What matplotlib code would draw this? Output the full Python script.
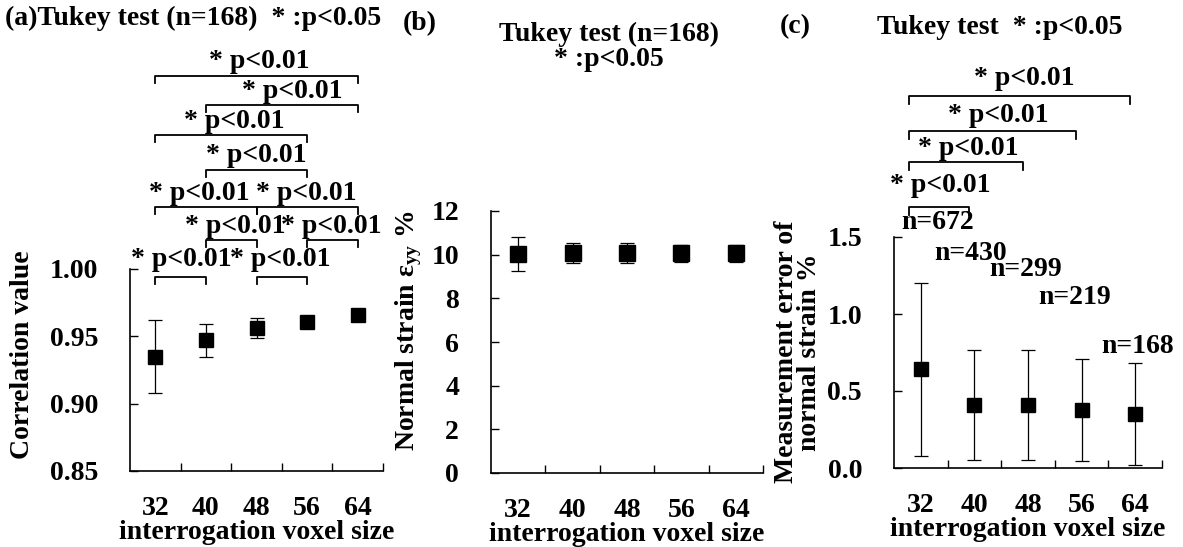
import matplotlib
matplotlib.use('Agg')
import matplotlib.pyplot as plt
import matplotlib.transforms as mtransforms

# voxel sizes (categories)
sizes = ['32', '40', '48', '56', '64']

# (a) correlation value, mean and SD
corr_mean = [0.935, 0.947, 0.956, 0.961, 0.966]
corr_sd = [0.027, 0.012, 0.0075, 0.003, 0.002]

# (b) normal strain eyy %, mean and SD
strain_mean = [10.04, 10.06, 10.06, 10.06, 10.06]
strain_sd = [0.78, 0.46, 0.46, 0.38, 0.38]

# (c) measurement error of normal strain %, mean and SD, sample count
err_mean = [0.64, 0.41, 0.41, 0.375, 0.352]
err_sd = [0.56, 0.355, 0.355, 0.33, 0.332]
err_n = [672, 430, 299, 219, 168]

# Tukey comparisons (index pairs)
corr_pairs = [(0, 1), (2, 3), (1, 2), (3, 4), (0, 2), (2, 4), (1, 3), (0, 3), (1, 4), (0, 4)]
err_pairs = [(0, 1), (0, 2), (0, 3), (0, 4)]

plt.rcParams['font.family'] = ['Liberation Serif', 'DejaVu Serif']
plt.rcParams['font.weight'] = 'bold'
plt.rcParams['axes.labelweight'] = 'bold'
plt.rcParams['font.size'] = 20
plt.rcParams['mathtext.fontset'] = 'custom'
plt.rcParams['mathtext.rm'] = 'Liberation Serif:bold'
plt.rcParams['mathtext.it'] = 'Liberation Serif:bold'
plt.rcParams['mathtext.bf'] = 'Liberation Serif:bold'

W, H = 1183, 547
fig = plt.figure(figsize=(W / 100, H / 100), dpi=100)

def add_axes(left, top, right, bottom):
    # pixel box -> figure fraction
    return fig.add_axes([left / W, 1 - bottom / H, (right - left) / W, (bottom - top) / H])

axa = add_axes(130, 269, 383, 471)
axb = add_axes(491, 211, 763, 473)
axc = add_axes(894, 237, 1162, 468)

xpos = [i + 0.5 for i in range(len(sizes))]

def style(ax):
    for s in ['top', 'right']:
        ax.spines[s].set_visible(False)
    for s in ['left', 'bottom']:
        ax.spines[s].set_linewidth(1.2)
    ax.set_xlim(0, len(sizes))
    ax.set_xticks(xpos)
    ax.set_xticklabels(sizes)
    ax.set_xticks(range(1, len(sizes) + 1), minor=True)
    ax.tick_params(axis='x', which='major', length=0, pad=18)
    ax.tick_params(axis='x', which='minor', direction='in', length=6, width=1)
    ax.tick_params(axis='y', direction='in', length=6, width=1, pad=23)
    ax.set_xlabel('interrogation voxel size', labelpad=-1)

def bracket(ax, x0, x1, y, leg, xt, yt, label='* p<0.01'):
    trans = mtransforms.blended_transform_factory(ax.transData, ax.transAxes)
    ax.plot([x0, x0, x1, x1], [y - leg, y, y, y - leg], color='k', lw=1.3,
            transform=trans, clip_on=False)
    ax.text(xt, yt, label, transform=trans, ha='center', va='baseline')

ekw = dict(fmt='s', color='k', ms=10, elinewidth=0.9, capsize=5, capthick=0.9)

# (a)
axa.errorbar(xpos, corr_mean, yerr=corr_sd, **ekw)
style(axa)
axa.set_ylim(0.85, 1.00)
axa.set_yticks([0.85, 0.90, 0.95, 1.00])
axa.set_yticklabels(['0.85', '0.90', '0.95', '1.00'])
line_y = [0.960, 0.960, 1.144, 1.144, 1.307, 1.307, 1.490, 1.663, 1.812, 1.955]
text_y = [1.015, 1.015, 1.178, 1.178, 1.342, 1.342, 1.530, 1.698, 1.847, 1.995]
text_x = [1.01, 2.96, 2.08, 3.97, 1.36, 3.48, 2.49, 2.06, 3.20, 2.55]
for (i, j), ly, tx, ty in zip(corr_pairs, line_y, text_x, text_y):
    bracket(axa, xpos[i], xpos[j], ly, 0.035, tx, ty)

# (b)
axb.errorbar(xpos, strain_mean, yerr=strain_sd, **dict(ekw, ms=11))
style(axb)
axb.set_ylim(0, 12)
axb.set_yticks(range(0, 13, 2))

# (c)
axc.errorbar(xpos, err_mean, yerr=err_sd, **ekw)
style(axc)
axc.set_ylim(0, 1.5)
axc.set_yticks([0, 0.5, 1.0, 1.5])
axc.set_yticklabels(['0.0', '0.5', '1.0', '1.5'])
line_y = [1.130, 1.325, 1.459, 1.610]
text_y = [1.195, 1.355, 1.498, 1.658]
text_x = [0.86, 1.38, 1.94, 2.43]
for (i, j), ly, tx, ty in zip(err_pairs, line_y, text_x, text_y):
    bracket(axc, xpos[i] - 0.22, xpos[j] - 0.1, ly, 0.035, tx, ty)
n_x = [0.82, 1.42, 2.46, 3.37, 4.54]
n_y = [1.597, 1.396, 1.286, 1.110, 0.786]
for n, x, y in zip(err_n, n_x, n_y):
    axc.text(x, y, 'n=%d' % n, ha='center', va='center', clip_on=False)

# titles and labels
fig.text(5 / W, 1 - 18 / H, '(a)Tukey test (n=168)  * :p<0.05', ha='left', va='center')
fig.text(403 / W, 1 - 24 / H, '(b)', ha='left', va='center')
fig.text(609 / W, 1 - 47 / H, 'Tukey test (n=168)\n* :p<0.05', ha='center', va='center',
         linespacing=1.0)
fig.text(780 / W, 1 - 27 / H, '(c)', ha='left', va='center')
fig.text(877 / W, 1 - 28 / H, 'Tukey test  * :p<0.05', ha='left', va='center')

fig.text(23 / W, 1 - 355 / H, 'Correlation value', rotation=90, ha='center', va='center')
fig.text(409 / W, 1 - 331 / H, r'Normal strain ε$_{yy}$ %', rotation=90, ha='center', va='center')
fig.text(798 / W, 1 - 352 / H, 'Measurement error of\nnormal strain %', rotation=90,
         ha='center', va='center', linespacing=0.9, multialignment='center')

fig.savefig('out.png', dpi=100)
